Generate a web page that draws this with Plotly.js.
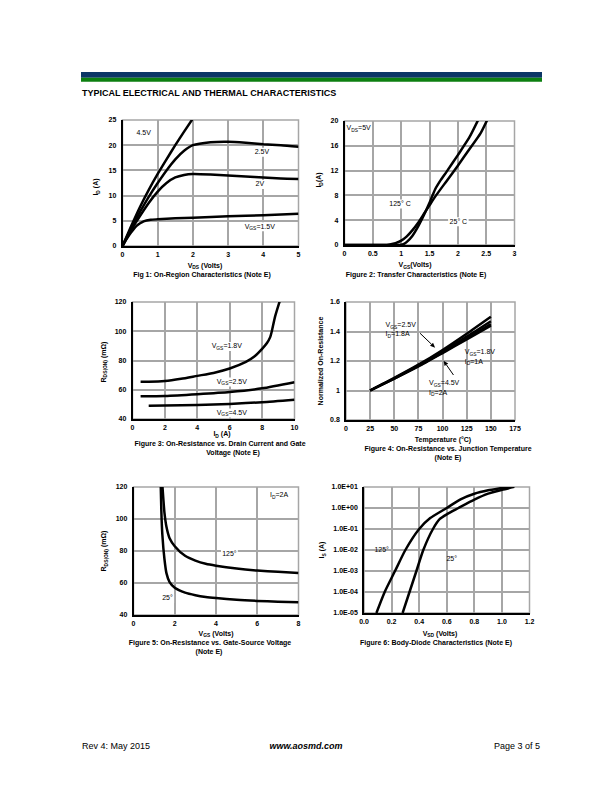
<!DOCTYPE html>
<html>
<head>
<meta charset="utf-8">
<script src="https://cdn.plot.ly/plotly-3.0.1.min.js"></script>
<style>html,body{margin:0;padding:0;background:#fff;}#chart{width:612px;height:792px;}</style>
</head>
<body>
<div id="chart"></div>
<script>
// ---------- DATA ----------
// Fig 1: On-Region characteristics (VDS in V, ID in A)
const fig1_vds_45 = [0, 0.25, 0.5, 0.75, 1, 1.25, 1.5, 1.75, 2.0];
const fig1_id_45  = [0, 4.0, 7.8, 11.2, 14.3, 17.2, 20.0, 22.7, 25.3];
const fig1_vds_25 = [0, 0.25, 0.5, 0.75, 1, 1.25, 1.5, 1.75, 2, 2.5, 3, 3.5, 4, 4.5, 5];
const fig1_id_25  = [0, 3.6, 6.8, 9.8, 12.5, 15.0, 17.2, 18.9, 20.0, 20.6, 20.7, 20.5, 20.2, 20.0, 19.7];
const fig1_vds_20 = [0, 0.25, 0.5, 0.75, 1, 1.25, 1.5, 1.75, 2, 2.5, 3, 3.5, 4, 4.5, 5];
const fig1_id_20  = [0, 3.2, 6.0, 8.6, 10.8, 12.5, 13.6, 14.1, 14.3, 14.2, 14.0, 13.8, 13.6, 13.4, 13.3];
const fig1_vds_15 = [0, 0.1, 0.2, 0.3, 0.4, 0.5, 0.6, 0.8, 1, 1.5, 2, 3, 4, 5];
const fig1_id_15  = [0, 1.2, 2.3, 3.2, 4.0, 4.5, 4.9, 5.2, 5.3, 5.5, 5.6, 5.9, 6.1, 6.4];

// Fig 2: Transfer characteristics (VGS in V, ID in A)
const fig2_vgs_25  = [0, 0.9, 1.0, 1.05, 1.1, 1.2, 1.3, 1.4, 1.5, 1.6, 1.7, 1.8, 2.0, 2.2, 2.36];
const fig2_id_25   = [0, 0, 0.05, 0.2, 0.5, 1.5, 3.0, 4.8, 6.8, 9.0, 10.5, 11.8, 14.5, 17.3, 20.2];
const fig2_vgs_125 = [0, 0.7, 0.8, 0.9, 1.0, 1.1, 1.2, 1.3, 1.4, 1.5, 1.6, 1.8, 2.0, 2.2, 2.4, 2.52];
const fig2_id_125  = [0, 0, 0.1, 0.3, 0.7, 1.4, 2.4, 3.6, 5.0, 6.4, 7.8, 10.3, 12.8, 15.4, 18.0, 20.2];

// Fig 3: RDS(on) vs ID (ID in A, R in mOhm)
const fig3_id_18 = [0.5, 1, 2, 3, 4, 5, 6, 7, 7.5, 8, 8.3, 8.5, 8.6, 8.8, 9.1];
const fig3_r_18  = [65.5, 65.5, 66, 67.5, 69.5, 71.5, 74.5, 79, 82.5, 88, 92, 96, 100, 110, 121];
const fig3_id_25 = [0.5, 2, 4, 6, 8, 10];
const fig3_r_25  = [55.5, 55.8, 57, 58.5, 61, 65.2];
const fig3_id_45 = [1, 2, 4, 6, 8, 10];
const fig3_r_45  = [49, 49.2, 49.5, 50.3, 51.5, 53.2];

// Fig 4: Normalized RDS(on) vs temperature (deg C)
const fig4_temp = [25, 50, 75, 100, 125, 150];
const fig4_a = [1, 1.085, 1.175, 1.275, 1.385, 1.50];
const fig4_b = [1, 1.083, 1.170, 1.265, 1.365, 1.47];
const fig4_c = [1, 1.081, 1.166, 1.258, 1.353, 1.45];
const fig4_d = [1, 1.080, 1.163, 1.254, 1.346, 1.44];

// Fig 5: RDS(on) vs VGS (VGS in V, R in mOhm)
const fig5_vgs_125 = [1.4, 1.45, 1.5, 1.6, 1.75, 2, 2.5, 3, 3.5, 4, 5, 6, 7, 8];
const fig5_r_125   = [121, 112, 104, 95, 88, 83, 77, 74, 72, 70.8, 69, 67.8, 67, 66.3];
const fig5_vgs_25  = [1.32, 1.35, 1.4, 1.5, 1.6, 1.75, 2, 2.5, 3, 3.5, 4, 5, 6, 7, 8];
const fig5_r_25    = [121, 105, 90, 75, 66, 60.5, 57, 54, 52.4, 51.3, 50.6, 49.5, 48.8, 48.3, 47.9];

// Fig 6: Body-diode characteristics (VSD in V, IS in A)
const fig6_vsd_125 = [0.09, 0.15, 0.225, 0.30, 0.40, 0.48, 0.6, 0.7, 0.8, 0.9, 1.0, 1.05];
const fig6_is_125  = [1e-5, 1e-4, 1e-3, 1e-2, 1e-1, 0.33, 1, 2.6, 4.8, 7, 9, 10.2];
const fig6_vsd_25  = [0.28, 0.33, 0.38, 0.43, 0.50, 0.55, 0.6, 0.685, 0.8, 0.9, 1.0, 1.09];
const fig6_is_25   = [1e-5, 1e-4, 1e-3, 1e-2, 1e-1, 0.3, 0.5, 1, 2.5, 4.8, 7.3, 10.2];
const fig6_ytickvals = [1e-5, 1e-4, 1e-3, 1e-2, 1e-1, 1, 10];
const fig6_yticktext = ['1.0E-05', '1.0E-04', '1.0E-03', '1.0E-02', '1.0E-01', '1.0E+00', '1.0E+01'];

// ---------- LAYOUT HELPERS ----------
const W = 612, H = 792;
const FONT = 'Arial, "Liberation Sans", sans-serif';
const xd = (a, b) => [a / W, b / W];
const yd = (top, bot) => [1 - bot / H, 1 - top / H];
const BOLD = s => ({family: FONT, size: s, color: '#000', weight: 'bold'});
const REG = s => ({family: FONT, size: s, color: '#000'});

function axStyle(extra) {
  return Object.assign({
    showline: true, linecolor: 'black', linewidth: 1.5,
    showgrid: true, gridcolor: '#a6a6a6', gridwidth: 1.5,
    zeroline: false, ticks: '', fixedrange: true,
    tickfont: BOLD(7)
  }, extra);
}

const traces = [];
const shapes = [];
const sfx = n => (n === 1 ? '' : String(n));

function line(xs, ys, n) {
  traces.push({x: xs, y: ys, xaxis: 'x' + sfx(n), yaxis: 'y' + sfx(n),
    type: 'scatter', mode: 'lines', line: {color: '#000', width: 2.5, shape: 'spline', smoothing: 0.6},
    hoverinfo: 'skip'});
}
line(fig1_vds_45, fig1_id_45, 1);
line(fig1_vds_25, fig1_id_25, 1);
line(fig1_vds_20, fig1_id_20, 1);
line(fig1_vds_15, fig1_id_15, 1);
line(fig2_vgs_25, fig2_id_25, 2);
line(fig2_vgs_125, fig2_id_125, 2);
line(fig3_id_18, fig3_r_18, 3);
line(fig3_id_25, fig3_r_25, 3);
line(fig3_id_45, fig3_r_45, 3);
line(fig4_temp, fig4_a, 4);
line(fig4_temp, fig4_b, 4);
line(fig4_temp, fig4_c, 4);
line(fig4_temp, fig4_d, 4);
line(fig5_vgs_125, fig5_r_125, 5);
line(fig5_vgs_25, fig5_r_25, 5);
line(fig6_vsd_125, fig6_is_125, 6);
line(fig6_vsd_25, fig6_is_25, 6);

// page-level text on an invisible full-page overlay (x: 0..612 px, y: 0..792 px from top)
function ptxt(text, x, y, font, pos) {
  traces.push({type: 'scatter', mode: 'text', x: [x], y: [y], text: [text], textposition: pos || 'middle center',
    textfont: font, xaxis: 'x7', yaxis: 'y7', hoverinfo: 'skip', cliponaxis: false, showlegend: false});
}
// rotated (vertical) page text, drawn as the label of an invisible bar
function vtxt(text, x, y, font) {
  traces.push({type: 'bar', x: [x], y: [140], base: [y - 70], width: [12], text: [text],
    textposition: 'inside', insidetextanchor: 'middle', textangle: -90, constraintext: 'none',
    textfont: font, insidetextfont: font, marker: {color: 'rgba(0,0,0,0)', line: {width: 0}},
    xaxis: 'x7', yaxis: 'y7', hoverinfo: 'skip', showlegend: false});
}
// in-plot labels in data coordinates, with a white box behind them
function dtxt(text, n, x, y, chars, lines, pos) {
  traces.push({type: 'scatter', mode: 'text', x: [x], y: [y], text: [text], textposition: pos || 'middle center',
    textfont: REG(7), xaxis: 'x' + sfx(n), yaxis: 'y' + sfx(n), hoverinfo: 'skip', cliponaxis: false, showlegend: false});
  if (chars > 0) {
    const w = chars * 3.7 + 2, h = 9 * (lines || 1);
    shapes.push({type: 'rect', xref: 'x' + sfx(n), yref: 'y' + sfx(n), layer: 'between',
      xsizemode: 'pixel', ysizemode: 'pixel', xanchor: x, yanchor: (n === 6 ? Math.log10(y) : y),
      x0: -w / 2, x1: w / 2, y0: -h / 2, y1: h / 2, fillcolor: '#fff', line: {width: 0}});
  }
}

const XS = {ticklabelstandoff: 1};
const YS = {ticklabelstandoff: 3};
const layout = {
  width: W, height: H, margin: {l: 0, r: 0, t: 0, b: 0},
  paper_bgcolor: '#fff', plot_bgcolor: 'rgba(0,0,0,0)', showlegend: false,
  font: {family: FONT, color: '#000', size: 7},
  xaxis:  axStyle(Object.assign({domain: xd(122.5, 298.5), range: [0, 5], dtick: 1, anchor: 'y'}, XS)),
  yaxis:  axStyle(Object.assign({domain: yd(120, 246), range: [0, 25], dtick: 5, anchor: 'x'}, YS)),
  xaxis2: axStyle(Object.assign({domain: xd(344.5, 514.5), range: [0, 3], dtick: 0.5, anchor: 'y2'}, XS)),
  yaxis2: axStyle(Object.assign({domain: yd(121, 245), range: [0, 20], dtick: 4, anchor: 'x2'}, YS)),
  xaxis3: axStyle(Object.assign({domain: xd(132.5, 294.5), range: [0, 10], dtick: 2, anchor: 'y3'}, XS)),
  yaxis3: axStyle(Object.assign({domain: yd(302, 419), range: [40, 120], dtick: 20, anchor: 'x3'}, YS)),
  xaxis4: axStyle(Object.assign({domain: xd(346, 515), range: [0, 175], dtick: 25, anchor: 'y4'}, XS)),
  yaxis4: axStyle(Object.assign({domain: yd(302, 420), range: [0.8, 1.6], dtick: 0.2, anchor: 'x4'}, YS)),
  xaxis5: axStyle(Object.assign({domain: xd(133.5, 298.5), range: [0, 8], dtick: 2, anchor: 'y5'}, XS)),
  yaxis5: axStyle(Object.assign({domain: yd(487, 615), range: [40, 120], dtick: 20, anchor: 'x5'}, YS)),
  xaxis6: axStyle(Object.assign({domain: xd(364, 529.5), range: [0, 1.2], dtick: 0.2, tickformat: '.1f', anchor: 'y6'}, XS)),
  yaxis6: axStyle(Object.assign({domain: yd(487, 613), type: 'log', range: [-5, 1], tickvals: fig6_ytickvals, ticktext: fig6_yticktext, anchor: 'x6'}, YS)),
  xaxis7: {domain: [0, 1], range: [0, W], visible: false, fixedrange: true, anchor: 'y7'},
  yaxis7: {domain: [0, 1], range: [H, 0], visible: false, fixedrange: true, anchor: 'x7'},
  shapes: shapes
};

// header bars
shapes.push({type: 'rect', xref: 'paper', yref: 'paper', x0: 81 / W, x1: 542 / W, y0: 1 - 77.7 / H, y1: 1 - 72 / H, fillcolor: '#0b3566', line: {width: 0}});
shapes.push({type: 'rect', xref: 'paper', yref: 'paper', x0: 81 / W, x1: 542 / W, y0: 1 - 81.8 / H, y1: 1 - 77.7 / H, fillcolor: '#0c7f10', line: {width: 0}});
// grey frames (top/right)
['', '2', '3', '4', '5', '6'].forEach(n => {
  shapes.push({type: 'rect', xref: 'x' + n + ' domain', yref: 'y' + n + ' domain', x0: 0, x1: 1, y0: 0, y1: 1,
    line: {color: '#a6a6a6', width: 1.5}, layer: 'below'});
});

// page text
ptxt('TYPICAL ELECTRICAL AND THERMAL CHARACTERISTICS', 82, 93.5, BOLD(9), 'middle right');
ptxt('Rev 4: May 2015', 82, 747, REG(9), 'middle right');
ptxt('<i>www.aosmd.com</i>', 306, 747, BOLD(9));
ptxt('Page 3 of 5', 540, 747, REG(9), 'middle left');

// Fig 1
ptxt('V<sub>DS</sub> (Volts)', 205, 266, BOLD(7));
ptxt('Fig 1: On-Region Characteristics (Note E)', 202, 275.5, BOLD(7));
vtxt('I<sub>D</sub> (A)', 97, 187, BOLD(7));
dtxt('4.5V', 1, 0.6, 22.3, 4);
dtxt('2.5V', 1, 3.96, 18.6, 4);
dtxt('2V', 1, 3.9, 12.2, 2);
dtxt('V<sub>GS</sub>=1.5V', 1, 3.9, 3.8, 8);

// Fig 2
ptxt('V<sub>GS</sub>(Volts)', 415, 265.5, BOLD(7));
ptxt('Figure 2: Transfer Characteristics (Note E)', 416, 275, BOLD(7));
vtxt('I<sub>D</sub>(A)', 320, 180, BOLD(7));
dtxt('V<sub>DS</sub>=5V', 2, 0.25, 18.8, 6);
dtxt('125° C', 2, 0.98, 6.6, 6);
dtxt('25° C', 2, 2.01, 3.75, 5);

// Fig 3
ptxt('I<sub>D</sub> (A)', 222, 434.5, BOLD(7));
ptxt('Figure 3: On-Resistance vs. Drain Current and Gate', 220, 444, BOLD(7));
ptxt('Voltage (Note E)', 233, 453, BOLD(7));
vtxt('R<sub>DS(ON)</sub> (mΩ)', 104, 362, BOLD(7));
dtxt('V<sub>GS</sub>=1.8V', 3, 5.82, 89.6, 8);
dtxt('V<sub>GS</sub>=2.5V', 3, 6.13, 65.3, 8);
dtxt('V<sub>GS</sub>=4.5V', 3, 6.13, 44.1, 8);

// Fig 4
ptxt('Temperature (°C)', 443, 440, BOLD(7));
ptxt('Figure 4: On-Resistance vs. Junction Temperature', 448, 449.5, BOLD(7));
ptxt('(Note E)', 448, 458.5, BOLD(7));
vtxt('Normalized On-Resistance', 320, 361, BOLD(7));
dtxt('V<sub>GS</sub>=2.5V<br>I<sub>D</sub>=1.8A', 4, 41, 1.41, 0, 2, 'middle right');
dtxt('V<sub>GS</sub>=1.8V<br>I<sub>D</sub>=1A', 4, 123, 1.225, 0, 2, 'middle right');
dtxt('V<sub>GS</sub>=4.5V<br>I<sub>D</sub>=2A', 4, 86, 1.015, 0, 2, 'middle right');
// arrows (pixel coordinates derived from the Fig 4 axes)
const f4px = (t, v) => [346 + t / 175 * 169, 420 - (v - 0.8) / 0.8 * 118];
function arrow(tail, tip) {
  const [x0, y0] = f4px(tail[0], tail[1]);
  const [x1, y1] = f4px(tip[0], tip[1]);
  const dx = x1 - x0, dy = y1 - y0, L = Math.hypot(dx, dy), ux = dx / L, uy = dy / L;
  const bx = x1 - ux * 5, by = y1 - uy * 5;
  shapes.push({type: 'line', xref: 'x7', yref: 'y7', x0: x0, y0: y0, x1: bx, y1: by, line: {color: '#000', width: 1}, layer: 'above'});
  shapes.push({type: 'path', xref: 'x7', yref: 'y7', layer: 'above', fillcolor: '#000', line: {width: 0},
    path: `M${x1},${y1} L${bx - uy * 2.2},${by + ux * 2.2} L${bx + uy * 2.2},${by - ux * 2.2} Z`});
}
arrow([76.7, 1.388], [92.3, 1.29]);
arrow([111.3, 1.105], [101, 1.202]);

// Fig 5
ptxt('V<sub>GS</sub> (Volts)', 216, 634, BOLD(7));
ptxt('Figure 5: On-Resistance vs. Gate-Source Voltage', 210, 643.5, BOLD(7));
ptxt('(Note E)', 209, 652.5, BOLD(7));
vtxt('R<sub>DS(ON)</sub> (mΩ)', 104, 551, BOLD(7));
dtxt('I<sub>D</sub>=2A', 5, 7.06, 114.6, 5);
dtxt('125°', 5, 4.65, 78, 4);
dtxt('25°', 5, 1.65, 50.3, 3);

// Fig 6
ptxt('V<sub>SD</sub> (Volts)', 440, 634, BOLD(7));
ptxt('Figure 6: Body-Diode Characteristics (Note E)', 436, 643.5, BOLD(7));
vtxt('I<sub>S</sub> (A)', 322, 550, BOLD(7));
dtxt('125°', 6, 0.128, 0.0093, 4);
dtxt('25°', 6, 0.636, 0.0036, 3);

Plotly.newPlot('chart', traces, layout, {displayModeBar: false});
</script>
</body>
</html>
